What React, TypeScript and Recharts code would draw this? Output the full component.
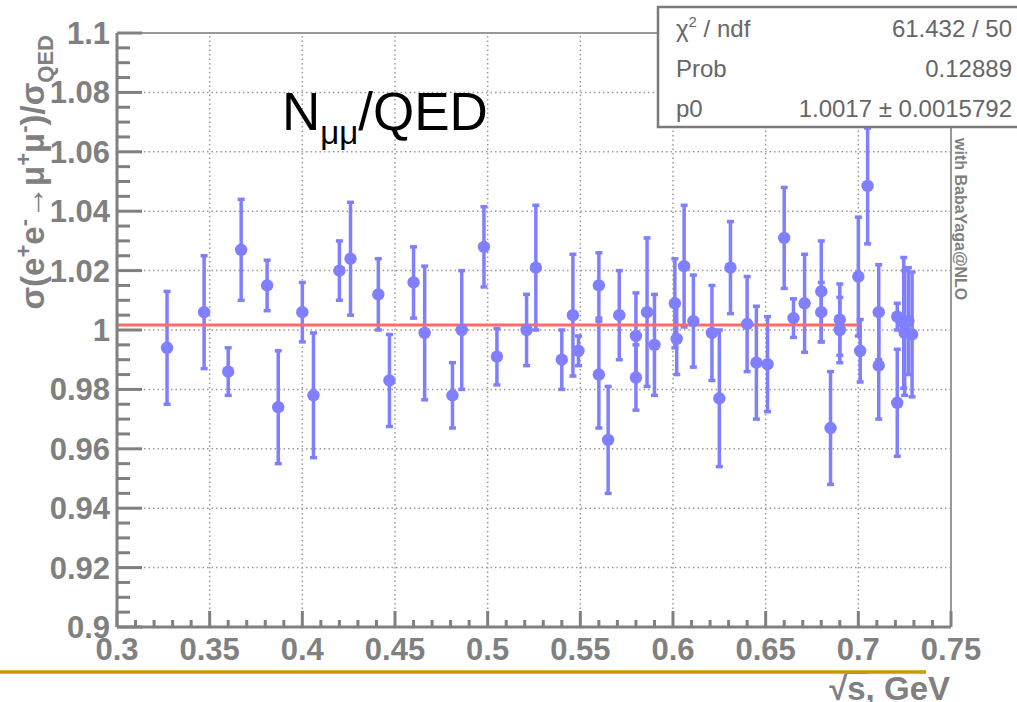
import React from "react";
import {
  ScatterChart,
  Scatter,
  XAxis,
  YAxis,
  ErrorBar,
  ReferenceLine,
} from "recharts";

// sqrt(s) in GeV, measured ratio, and its error
const energies = [
  0.327, 0.347, 0.36, 0.367, 0.381, 0.387, 0.4, 0.406, 0.42, 0.426, 0.441, 0.447,
  0.46, 0.466, 0.481, 0.486, 0.498, 0.505, 0.521, 0.526, 0.54, 0.546, 0.549, 0.56,
  0.56, 0.565, 0.571, 0.58, 0.58, 0.586, 0.59, 0.601, 0.602, 0.606, 0.611, 0.621,
  0.625, 0.631, 0.64, 0.645, 0.651, 0.66, 0.665, 0.671, 0.68, 0.68, 0.685, 0.69,
  0.69, 0.7, 0.701, 0.705, 0.711, 0.711, 0.721, 0.721, 0.7245, 0.725, 0.727, 0.729,
];
const ratios = [
  0.994, 1.006, 0.986, 1.027, 1.015, 0.974, 1.006, 0.978, 1.02, 1.024, 1.012, 0.983,
  1.016, 0.999, 0.978, 1.0, 1.028, 0.991, 1.0, 1.021, 0.99, 1.005, 0.993, 1.015,
  0.985, 0.963, 1.005, 0.998, 0.984, 1.006, 0.995, 1.009, 0.997, 1.0215, 1.003, 0.999,
  0.977, 1.021, 1.002, 0.989, 0.9885, 1.031, 1.004, 1.009, 1.013, 1.006, 0.967, 1.0035,
  1.0, 1.018, 0.993, 1.0485, 1.006, 0.988, 1.0045, 0.9755, 1.0024, 0.999, 1.003, 0.9985,
];
const errors = [
  0.019, 0.019, 0.008, 0.017, 0.0085, 0.019, 0.01, 0.021, 0.01, 0.019, 0.012, 0.0155,
  0.012, 0.0225, 0.011, 0.02, 0.0135, 0.0095, 0.012, 0.021, 0.01, 0.0205, 0.005, 0.011,
  0.018, 0.018, 0.015, 0.0145, 0.011, 0.025, 0.017, 0.015, 0.012, 0.0205, 0.0155, 0.016,
  0.023, 0.0155, 0.016, 0.019, 0.016, 0.017, 0.0065, 0.0165, 0.017, 0.01, 0.019, 0.012,
  0.011, 0.02, 0.0105, 0.0195, 0.016, 0.018, 0.0045, 0.018, 0.022, 0.021, 0.018, 0.021,
];

const fitValue = 1.0017;
const fitRange = [0.3, 0.7];

const xMajor = [0.3, 0.35, 0.4, 0.45, 0.5, 0.55, 0.6, 0.65, 0.7, 0.75];
const yMajor = [0.9, 0.92, 0.94, 0.96, 0.98, 1.0, 1.02, 1.04, 1.06, 1.08, 1.1];
const xTicks = Array.from({ length: 46 }, (_, i) => +(0.3 + i * 0.01).toFixed(3));
const yTicks = Array.from({ length: 41 }, (_, i) => +(0.9 + i * 0.005).toFixed(4));

const statsRows = [
  ["χ2 / ndf", "61.432 / 50"],
  ["Prob", "0.12889"],
  ["p0", "1.0017 ± 0.0015792"],
];

const data = energies.map((x, i) => ({ x, y: ratios[i], err: errors[i] }));

const AXIS = "#808080";
const BLUE = "#7f7fff";
const FONT = '"Liberation Sans", Arial, Helvetica, sans-serif';

const isMajor = (v: number, list: number[]) => list.some((m) => Math.abs(m - v) < 1e-6);
const fmt = (v: number) => String(+v.toFixed(3));

const YTick = (props: any) => {
  const { x, y, payload } = props;
  const major = isMajor(payload.value, yMajor);
  return (
    <g>
      <line x1={x} x2={x + (major ? 25 : 13)} y1={y} y2={y} stroke={AXIS} strokeWidth={3} />
      {major && (
        <text x={x - 7} y={y} dy={11} textAnchor="end" fontSize={31} fontWeight="bold" fill={AXIS} fontFamily={FONT}>
          {fmt(payload.value)}
        </text>
      )}
    </g>
  );
};

const XTick = (props: any) => {
  const { x, y, payload } = props;
  const major = isMajor(payload.value, xMajor);
  return (
    <g>
      <line x1={x} x2={x} y1={y} y2={y - (major ? 16 : 7)} stroke={AXIS} strokeWidth={3} />
      {major && (
        <text x={x} y={y} dy={33} textAnchor="middle" fontSize={31} fontWeight="bold" fill={AXIS} fontFamily={FONT}>
          {fmt(payload.value)}
        </text>
      )}
    </g>
  );
};

const Dot = (props: any) => <circle cx={props.cx} cy={props.cy} r={6.2} fill={BLUE} />;

export default function App() {
  return (
    <div style={{ position: "absolute", left: 0, top: 0, width: 1017, height: 702, background: "#fff", fontFamily: FONT }}>
      <ScatterChart width={1017} height={702} margin={{ top: 33, right: 66, left: 57, bottom: 35 }}>
        <XAxis
          type="number"
          dataKey="x"
          domain={[0.3, 0.75]}
          ticks={xTicks}
          interval={0}
          tickSize={0}
          tickMargin={0}
          tick={XTick}
          height={40}
          axisLine={{ stroke: AXIS, strokeWidth: 3 }}
          allowDataOverflow
        />
        <YAxis
          type="number"
          dataKey="y"
          domain={[0.9, 1.1]}
          ticks={yTicks}
          interval={0}
          tickSize={0}
          tickMargin={0}
          tick={YTick}
          width={60}
          axisLine={{ stroke: AXIS, strokeWidth: 3 }}
          allowDataOverflow
        />
        {/* dotted grid at major ticks */}
        {xMajor.slice(1, -1).map((v) => (
          <ReferenceLine key={"gx" + v} x={v} stroke="#999" strokeWidth={1.5} strokeDasharray="1.5 3" />
        ))}
        {yMajor.slice(1, -1).map((v) => (
          <ReferenceLine key={"gy" + v} y={v} stroke="#999" strokeWidth={1.5} strokeDasharray="1.5 3" />
        ))}
        {/* frame */}
        <ReferenceLine y={1.1} stroke="#999" strokeWidth={2} />
        <ReferenceLine x={0.75} stroke="#999" strokeWidth={2} />
        <Scatter data={data} shape={Dot} isAnimationActive={false}>
          <ErrorBar dataKey="err" direction="y" width={3.5} stroke={BLUE} strokeWidth={3.5} isAnimationActive={false} />
        </Scatter>
        {/* constant fit */}
        <ReferenceLine
          segment={[
            { x: fitRange[0], y: fitValue },
            { x: fitRange[1], y: fitValue },
          ]}
          stroke="#ff6a6a"
          strokeWidth={3}
        />
      </ScatterChart>

      <svg width={1017} height={702} style={{ position: "absolute", left: 0, top: 0, pointerEvents: "none" }}>
        {/* y title */}
        <text
          x={44}
          y={35}
          transform="rotate(-90, 44, 35)"
          textAnchor="end"
          fontSize={33}
          fontWeight="bold"
          fill={AXIS}
          fontFamily={FONT}
        >
          σ(e<tspan fontSize={22} dy={-13}>+</tspan>
          <tspan dy={13}>e</tspan>
          <tspan fontSize={22} dy={-13}>-</tspan>
          <tspan dy={13}>→μ</tspan>
          <tspan fontSize={22} dy={-13}>+</tspan>
          <tspan dy={13}>μ</tspan>
          <tspan fontSize={22} dy={-13}>-</tspan>
          <tspan dy={13}>)/σ</tspan>
          <tspan fontSize={22} dy={9}>QED</tspan>
        </text>

        {/* x title */}
        <text x={950} y={700} textAnchor="end" fontSize={33} fontWeight="bold" fill={AXIS} fontFamily={FONT}>
          √s, GeV
        </text>
        <line x1={846} x2={868} y1={673} y2={673} stroke={AXIS} strokeWidth={2} />

        {/* slide rule */}
        <line x1={0} x2={926} y1={672} y2={672} stroke="#cc9900" strokeWidth={3.5} />

        {/* title */}
        <text x={282} y={130} fontSize={53} fill="#000" fontFamily={FONT}>
          N<tspan fontSize={33} dy={14}>μμ</tspan>
          <tspan dy={-14}>/QED</tspan>
        </text>

        {/* side note */}
        <text
          x={955}
          y={138}
          transform="rotate(90, 955, 138)"
          fontSize={16}
          fontWeight="bold"
          fill={AXIS}
          fontFamily={FONT}
        >
          with BabaYaga@NLO
        </text>

        {/* stats box */}
        <rect x={658} y={7} width={400} height={120} fill="#fff" stroke="#7a7a7a" strokeWidth={2.5} />
        {statsRows.map(([k, v], i) => (
          <g key={k} fontSize={24} fill="#666" fontFamily={FONT}>
            <text x={676} y={37 + i * 40}>
              {k === "χ2 / ndf" ? (
                <>
                  χ<tspan fontSize={15} dy={-10}>2</tspan>
                  <tspan dy={10}> / ndf</tspan>
                </>
              ) : (
                k
              )}
            </text>
            <text x={1012} y={37 + i * 40} textAnchor="end">
              {v}
            </text>
          </g>
        ))}
      </svg>
    </div>
  );
}
